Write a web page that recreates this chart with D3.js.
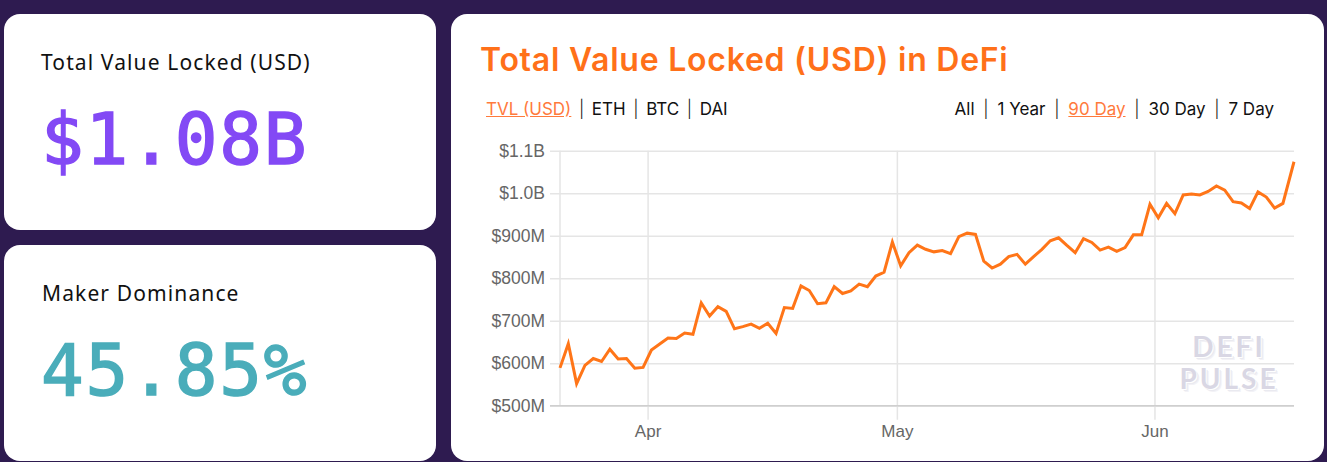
<!DOCTYPE html>
<html>
<head>
<meta charset="utf-8">
<script src="https://cdn.jsdelivr.net/npm/d3@7"></script>
<style>
  html, body { margin: 0; padding: 0; width: 1327px; height: 462px; overflow: hidden; background: #2e1b50; }
  .card { position: absolute; background: #fff; border-radius: 16px; }
  .label { position: absolute; font-family: "Noto Sans", sans-serif; font-size: 21px; letter-spacing: 1.12px; color: #111; white-space: nowrap; }
  .big { position: absolute; font-family: "DejaVu Sans Mono", monospace; font-size: 71px; letter-spacing: 1.8px; line-height: 80px; white-space: nowrap; -webkit-text-stroke: 1.5px currentColor; }
  .title { position: absolute; left: 480px; top: 40px; font-family: Inter, sans-serif; font-weight: 600; font-size: 32px; letter-spacing: 0.75px; line-height: 40px; color: #ff7019; white-space: nowrap; }
  .links { position: absolute; font-family: Inter, sans-serif; font-size: 17px; line-height: 22px; color: #111; white-space: nowrap; }
  .links a { color: #ff7a3c; text-decoration: underline; }
  .links span { font-weight: 300; }
  .watermark { position: absolute; font-family: Lato, sans-serif; font-weight: 700; font-size: 28px; letter-spacing: 3px; line-height: 28px; color: #d9d7e4; text-align: center; text-shadow: 1px 1px 0 #fff, 2px 2px 0 #eaeaf0, 3px 3px 0 #f3f2f6; }
  svg { position: absolute; left: 0; top: 0; }
  .axis text { font-family: "Liberation Sans", Arial, sans-serif; fill: #666; }
  .axis path { display: none; }
  .axis line { stroke: #e5e5e5; stroke-width: 1.5px; }
</style>
</head>
<body>
<script>
// values
var dates = [
  "03-21","03-22","03-23","03-24","03-25","03-26","03-27","03-28","03-29","03-30","03-31",
  "04-01","04-02","04-03","04-04","04-05","04-06","04-07","04-08","04-09","04-10","04-11","04-12","04-13","04-14","04-15",
  "04-16","04-17","04-18","04-19","04-20","04-21","04-22","04-23","04-24","04-25","04-26","04-27","04-28","04-29","04-30",
  "05-01","05-02","05-03","05-04","05-05","05-06","05-07","05-08","05-09","05-10","05-11","05-12","05-13","05-14","05-15",
  "05-16","05-17","05-18","05-19","05-20","05-21","05-22","05-23","05-24","05-25","05-26","05-27","05-28","05-29","05-30","05-31",
  "06-01","06-02","06-03","06-04","06-05","06-06","06-07","06-08","06-09","06-10","06-11","06-12","06-13","06-14","06-15","06-16"
];
var lastDate = "2020-06-17 17";
var tvl = [
  589,646,552,595,611,604,633,610,611,588,590,
  631,645,659,658,671,668,742,711,733,722,681,686,692,682,694,
  670,731,729,782,771,740,742,780,764,770,786,780,805,814,885,
  829,860,878,868,862,865,858,898,906,903,840,824,833,851,856,
  833,851,868,888,895,877,860,893,884,866,873,863,872,902,902,974,
  942,976,952,996,998,996,1004,1017,1007,980,977,964,1003,991,965,976,
  1074
];
var yTicks = [500, 600, 700, 800, 900, 1000, 1100];
var xTicks = ["2020-04-01 00", "2020-05-01 00", "2020-06-01 00"];
var leftLinks = ["TVL (USD)", "ETH", "BTC", "DAI"];
var rangeLinks = ["All", "1 Year", "90 Day", "30 Day", "7 Day"];

var body = d3.select("body");

function card(x, y, w, h) {
  body.append("div").attr("class", "card")
    .style("left", x + "px").style("top", y + "px")
    .style("width", w + "px").style("height", h + "px");
}
card(4, 14, 432, 216);
card(4, 245, 432, 216);
card(451, 14, 873, 447);

body.append("div").attr("class", "label").style("left", "41px").style("top", "48px").text("Total Value Locked (USD)");
body.append("div").attr("class", "big").style("left", "41px").style("top", "100px").style("color", "#8349f5").text("$1.08B");
body.append("div").attr("class", "label").style("left", "42px").style("top", "279px").text("Maker Dominance");
body.append("div").attr("class", "big").style("left", "41px").style("top", "331px").style("color", "#4aadba").text("45.85%");
body.append("div").attr("class", "title").text("Total Value Locked (USD) in DeFi");

function linkRow(names, active, gap, pos) {
  var row = body.append("div").attr("class", "links").style("top", "98px");
  Object.entries(pos).forEach(([k, v]) => row.style(k, v));
  names.forEach((n, i) => {
    if (i > 0) row.append("span").style("margin", "0 " + gap + "px").text("|");
    if (n == active) row.append("a").text(n);
    else row.append("b").style("font-weight", "400").text(n);
  });
}
linkRow(leftLinks, "TVL (USD)", 7.6, { left: "486px" });
linkRow(rangeLinks, "90 Day", 8.8, { right: "53px" });

// chart
var parse = d3.timeParse("%Y-%m-%d %H");
var times = dates.map(d => parse("2020-" + d + " 09")).concat([parse(lastDate)]);

var x = d3.scaleTime().domain([times[0], times[times.length - 1]]).range([560, 1294]);
var y = d3.scaleLinear().domain([500, 1100]).range([405.7, 150.7]);

var svg = body.append("svg").attr("width", 1327).attr("height", 462);

var yAxis = svg.append("g").attr("class", "axis").attr("transform", "translate(560,0)")
  .call(d3.axisLeft(y).tickValues(yTicks).tickSize(10).tickPadding(5)
    .tickFormat(d => d >= 1000 ? "$" + (d / 1000).toFixed(1) + "B" : "$" + d + "M"));
yAxis.selectAll("line").attr("x2", 734).attr("x1", -10);
yAxis.selectAll("text").style("font-size", "17.5px");

var xAxis = svg.append("g").attr("class", "axis").attr("transform", "translate(-0.7,405.7)")
  .call(d3.axisBottom(x).tickValues(xTicks.map(parse)).tickSize(14).tickPadding(5).tickFormat(d3.timeFormat("%b")));
xAxis.selectAll("line").attr("y1", -255).attr("y2", 14);
xAxis.selectAll("text").style("font-size", "17px");

svg.append("line").attr("x1", 560).attr("x2", 560).attr("y1", 150.7).attr("y2", 405.7)
  .attr("stroke", "#e5e5e5").attr("stroke-width", 1.5);
svg.append("line").attr("x1", 550).attr("x2", 1294).attr("y1", y(500)).attr("y2", y(500))
  .attr("stroke", "#cfcfcf").attr("stroke-width", 1.5);

var line = d3.line().x((d, i) => x(times[i])).y(d => y(d));
svg.append("path").datum(tvl).attr("d", line)
  .attr("fill", "none").attr("stroke", "#ff7518").attr("stroke-width", 3).attr("stroke-linejoin", "miter");

body.append("div").attr("class", "watermark").style("left", "1170px").style("top", "332px").style("width", "118px").text("DEFI");
body.append("div").attr("class", "watermark").style("left", "1170px").style("top", "364px").style("width", "118px").text("PULSE");
</script>
</body>
</html>
